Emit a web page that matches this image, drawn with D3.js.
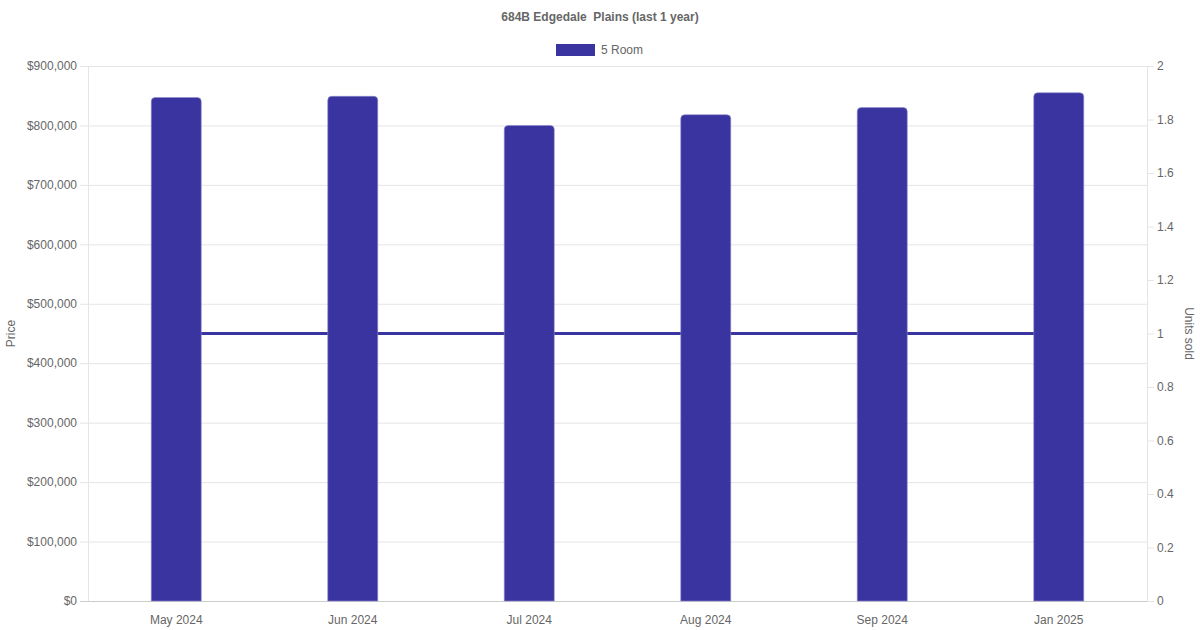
<!DOCTYPE html>
<html>
<head>
	<meta charset="utf-8">
	<title>684B Edgedale Plains</title>
	<script src="https://cdn.jsdelivr.net/npm/d3@7/dist/d3.min.js"></script>
	<style type="text/css">
		body{
			margin: 0;
			padding: 0;
			background: #fff;
		}
		svg{
			display: block;
			font-family: "Liberation Sans", Arial, Helvetica, sans-serif;
		}
	</style>
</head>
<body>
	<svg id="svg" width="1200" height="630"></svg>
	<script type="text/javascript">
		// data
		let months = ['May 2024','Jun 2024','Jul 2024','Aug 2024','Sep 2024','Jan 2025'];
		let prices = [847000,849000,800000,818000,830000,855000];
		let unitsSold = [1,1,1,1,1,1];
		let priceTicks = [0,100000,200000,300000,400000,500000,600000,700000,800000,900000];
		let unitTicks = [0,0.2,0.4,0.6,0.8,1,1.2,1.4,1.6,1.8,2];

		let barColor = '#3a34a0';
		let textColor = '#666';
		let gridColor = '#e5e5e5';

		let plotLeft = 88, plotRight = 1147, plotTop = 66, plotBottom = 601;
		let svg = d3.select('#svg');

		let x = d3.scaleBand().domain(months).range([plotLeft,plotRight]);
		let yPrice = d3.scaleLinear().domain([0,900000]).range([plotBottom,plotTop]);
		let yUnits = d3.scaleLinear().domain([0,2]).range([plotBottom,plotTop]);

		// grid lines
		let grid = svg.append('g');
		grid.selectAll('line')
			.data(priceTicks)
			.enter().append('line')
			.attr('x1',plotLeft-8)
			.attr('x2',plotRight)
			.attr('y1',d=>yPrice(d)+0.5)
			.attr('y2',d=>yPrice(d)+0.5)
			.style('stroke',d=>d===0 ? '#ccc' : gridColor)
			.style('stroke-width',1);

		// left border line
		svg.append('line')
			.attr('x1',plotLeft+0.5).attr('x2',plotLeft+0.5)
			.attr('y1',plotTop).attr('y2',plotBottom)
			.style('stroke',gridColor);

		// left axis labels
		let fmt = d3.format(',');
		svg.append('g').selectAll('text')
			.data(priceTicks)
			.enter().append('text')
			.attr('x',plotLeft-11)
			.attr('y',d=>yPrice(d))
			.attr('dy','0.35em')
			.style('text-anchor','end')
			.style('font-size','12px')
			.style('fill',textColor)
			.text(d=>'$'+fmt(d));

		// right axis
		let rightAxis = svg.append('g');
		rightAxis.append('line')
			.attr('x1',plotRight+0.5).attr('x2',plotRight+0.5)
			.attr('y1',plotTop).attr('y2',plotBottom)
			.style('stroke',gridColor);
		rightAxis.selectAll('line.tick')
			.data(unitTicks)
			.enter().append('line')
			.attr('class','tick')
			.attr('x1',plotRight)
			.attr('x2',plotRight+7)
			.attr('y1',d=>yUnits(d)+0.5)
			.attr('y2',d=>yUnits(d)+0.5)
			.style('stroke',gridColor);
		rightAxis.selectAll('text')
			.data(unitTicks)
			.enter().append('text')
			.attr('x',plotRight+10)
			.attr('y',d=>yUnits(d))
			.attr('dy','0.35em')
			.style('font-size','12px')
			.style('fill',textColor)
			.text(d=>String(+d.toFixed(1)));

		// x labels
		svg.append('g').selectAll('text')
			.data(months)
			.enter().append('text')
			.attr('x',d=>x(d)+x.bandwidth()/2)
			.attr('y',plotBottom+23)
			.style('text-anchor','middle')
			.style('font-size','12px')
			.style('fill',textColor)
			.text(d=>d);

		// units sold line (behind bars)
		let line = d3.line()
			.x((d,i)=>x(months[i])+x.bandwidth()/2)
			.y(d=>yUnits(d));
		svg.append('path')
			.datum(unitsSold)
			.attr('d',line)
			.style('fill','none')
			.style('stroke',barColor)
			.style('stroke-width',3);

		// bars
		let barWidth = 50, r = 4;
		svg.append('g').selectAll('path')
			.data(prices)
			.enter().append('path')
			.attr('d',(d,i)=>{
				let bx = x(months[i])+x.bandwidth()/2-barWidth/2;
				let by = yPrice(d);
				return 'M'+bx+','+plotBottom+
					'V'+(by+r)+
					'Q'+bx+','+by+' '+(bx+r)+','+by+
					'H'+(bx+barWidth-r)+
					'Q'+(bx+barWidth)+','+by+' '+(bx+barWidth)+','+(by+r)+
					'V'+plotBottom+'Z';
			})
			.style('fill',barColor)
			.style('stroke','#8f8bcb')
			.style('stroke-width',0.6);

		// title
		svg.append('text')
			.attr('x',600)
			.attr('y',21)
			.style('text-anchor','middle')
			.style('font-size','12px')
			.style('font-weight','bold')
			.style('fill',textColor)
			.style('white-space','pre')
			.text('684B Edgedale  Plains (last 1 year)');

		// legend
		svg.append('rect')
			.attr('x',556).attr('y',44)
			.attr('width',39).attr('height',12)
			.style('fill',barColor);
		svg.append('text')
			.attr('x',601).attr('y',54)
			.style('font-size','12px')
			.style('fill',textColor)
			.text('5 Room');

		// axis titles
		svg.append('text')
			.attr('transform','translate(15,'+((plotTop+plotBottom)/2)+') rotate(-90)')
			.style('text-anchor','middle')
			.style('font-size','12px')
			.style('fill',textColor)
			.text('Price');
		svg.append('text')
			.attr('transform','translate(1185,'+((plotTop+plotBottom)/2)+') rotate(90)')
			.style('text-anchor','middle')
			.style('font-size','12px')
			.style('fill',textColor)
			.text('Units sold');
	</script>
</body>
</html>
